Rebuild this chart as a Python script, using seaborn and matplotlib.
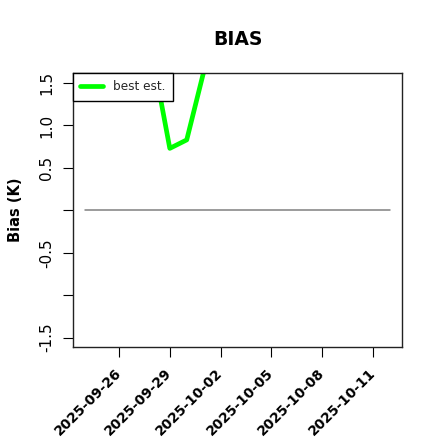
import matplotlib
matplotlib.use("Agg")
import matplotlib.pyplot as plt
import seaborn as sns
import pandas as pd
import numpy as np

# ---- data ----
ref_dates = ["2025-09-24", "2025-10-12"]
ref_values = [0.0, 0.0]
bias_dates = ["2025-09-28", "2025-09-29", "2025-09-30", "2025-10-01", "2025-10-02"]
bias_values = [1.80, 0.73, 0.83, 1.63, 2.30]
xtick_labels = ["2025-09-26", "2025-09-29", "2025-10-02", "2025-10-05", "2025-10-08", "2025-10-11"]
ytick_values = [-1.5, -1.0, -0.5, 0.0, 0.5, 1.0, 1.5]
ytick_labels = ["-1.5", "", "-0.5", "", "0.5", "1.0", "1.5"]

sns.set_theme(style="white")
plt.rcParams["font.family"] = ["DejaVu Sans"]

ref_df = pd.DataFrame({"date": pd.to_datetime(ref_dates), "value": ref_values})
bias_df = pd.DataFrame({"date": pd.to_datetime(bias_dates), "value": bias_values})

fig = plt.figure(figsize=(4.4, 4.4), dpi=100)
ax = fig.add_axes([73/440, 1-347/440, (402-73)/440, (347-73)/440])

sns.lineplot(data=ref_df, x="date", y="value", ax=ax, color="#808080", lw=1.1, label="_nolegend_")
sns.lineplot(data=bias_df, x="date", y="value", ax=ax, color="#00FF00", lw=3.4, label="best est.")

d0 = pd.Timestamp(ref_dates[0]); d1 = pd.Timestamp(ref_dates[1])
span = d1 - d0
ax.set_xlim(d0 - span * 0.04, d1 + span * 0.04)
ax.set_ylim(-1.61, 1.618)

ax.set_xticks(pd.to_datetime(xtick_labels))
ax.set_xticklabels(xtick_labels, rotation=45, ha="right", va="center",
                   rotation_mode="anchor", fontweight="bold", fontsize=9.9)
ax.set_yticks(ytick_values)
ax.set_yticklabels(ytick_labels, rotation=90, va="center", fontsize=11)
ax.tick_params(axis="both", direction="out", length=7, width=0.8, color="black",
               left=True, bottom=True, labelcolor="black")
ax.tick_params(axis="x", pad=10.5)
ax.tick_params(axis="y", pad=6.6)

for s in ax.spines.values():
    s.set_color("#222222")
    s.set_linewidth(1.0)

ax.set_xlabel("")
ax.set_ylabel("Bias (K)", fontweight="bold", fontsize=10.5, color="black")
ax.yaxis.set_label_coords(-0.152, 0.5)
ax.set_title("BIAS", fontweight="bold", fontsize=13.5, pad=20, color="black")

leg = ax.legend(loc="upper left", borderaxespad=0, fancybox=False, fontsize=8.7,
                handlelength=1.9, framealpha=1, edgecolor="black",
                borderpad=0.6, handletextpad=0.85)
leg.get_frame().set_linewidth(1.0)

fig.savefig("out.png", dpi=100)
